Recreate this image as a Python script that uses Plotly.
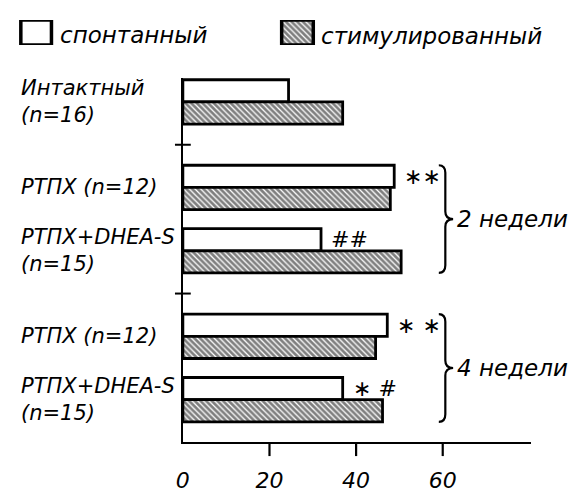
import plotly.graph_objects as go

# ---- data -------------------------------------------------------------
groups = [
    "Интактный<br>(n=16)",
    "РТПХ (n=12)",
    "РТПХ+DHEA-S<br>(n=15)",
    "РТПХ (n=12)",
    "РТПХ+DHEA-S<br>(n=15)",
]
spontaneous = [24.4, 48.8, 31.9, 47.2, 36.9]
stimulated = [36.9, 47.9, 50.4, 44.5, 46.1]
marks = ["", "∗∗", "##", "∗ ∗", "∗ #"]
period = [0, 1, 1, 2, 2]            # 0 = intact, 1 = 2 weeks, 2 = 4 weeks
period_labels = {1: "2 недели", 2: "4 недели"}
legend_names = ["спонтанный", "стимулированный"]
x_ticks = [0, 20, 40, 60]

# ---- layout constants ---------------------------------------------------
W, H = 584, 493
BAR = 0.35                  # thickness of one bar (y units)
PERIOD_GAP = 0.35           # extra space between periods
FONT = "DejaVu Sans"
INK = "black"

pos = [i + PERIOD_GAP * p for i, p in enumerate(period)]

# plot area in pixels
PL, PR, PT, PB = 178, 530, 78, 443
X_MAX = 80.3
Y_RANGE = [5.37, -0.38]


def fx(px):
    return px / W


def fy(py):
    return 1 - py / H


hatch = dict(shape="\\", fgcolor=INK, bgcolor="white", size=4, solidity=0.68)

fig = go.Figure()

fig.add_trace(go.Bar(
    orientation="h", y=pos, x=spontaneous, offset=-BAR, width=BAR,
    marker=dict(color="white", line=dict(color=INK, width=2.8)),
    name=legend_names[0], showlegend=False, hoverinfo="x",
))
fig.add_trace(go.Bar(
    orientation="h", y=pos, x=stimulated, offset=0, width=BAR,
    marker=dict(color="white", pattern=hatch, line=dict(color=INK, width=2.8)),
    name=legend_names[1], showlegend=False, hoverinfo="x",
))

# legend swatches on their own small axis pair
fig.add_trace(go.Bar(
    orientation="h", y=[0.5], x=[31], base=[14], width=1,
    marker=dict(color="white", line=dict(color=INK, width=3.5)),
    xaxis="x3", yaxis="y3", showlegend=False, hoverinfo="skip",
))
fig.add_trace(go.Bar(
    orientation="h", y=[0.5], x=[32], base=[278], width=1,
    marker=dict(color="white", pattern=hatch, line=dict(color=INK, width=3.5)),
    xaxis="x3", yaxis="y3", showlegend=False, hoverinfo="skip",
))

italic = dict(family=FONT, size=21, color=INK, style="italic")
annotations = []

# legend texts
annotations.append(dict(x=fx(52), y=fy(35), xref="paper", yref="paper",
                        text=legend_names[0], showarrow=False,
                        xanchor="left", yanchor="middle",
                        font=dict(italic, size=23)))
annotations.append(dict(x=fx(316), y=fy(36), xref="paper", yref="paper",
                        text=legend_names[1], showarrow=False,
                        xanchor="left", yanchor="middle",
                        font=dict(italic, size=23)))

# group labels on the left
for g, p in zip(groups, pos):
    annotations.append(dict(x=fx(12), y=p, xref="paper", yref="y",
                            text=g, showarrow=False, align="left",
                            xanchor="left", yanchor="middle", font=italic))

# significance marks next to the spontaneous bars
for m, v, p in zip(marks, spontaneous, pos):
    if m:
        annotations.append(dict(x=v, y=p - BAR / 2, xref="x", yref="y",
                                text=m, showarrow=False, xanchor="left",
                                yanchor="middle", xshift=8,
                                font=dict(family=FONT, size=22, color=INK)))

shapes = []

# curly braces for each period
for pid, label in period_labels.items():
    rows = [i for i, p in enumerate(period) if p == pid]
    yt = pos[rows[0]] - BAR
    yb = pos[rows[-1]] + BAR
    ym = (yt + yb) / 2
    x0, xs, xt = 59.1, 60.6, 62.4
    r = 0.12
    path = (f"M {x0},{yt} Q {xs},{yt} {xs},{yt + r} "
            f"L {xs},{ym - r} Q {xs},{ym} {xt},{ym} "
            f"Q {xs},{ym} {xs},{ym + r} "
            f"L {xs},{yb - r} Q {xs},{yb} {x0},{yb}")
    shapes.append(dict(type="path", path=path, xref="x", yref="y",
                       line=dict(color=INK, width=2.2)))
    annotations.append(dict(x=xt, y=ym, xref="x", yref="y", text=label,
                            showarrow=False, xanchor="left", yanchor="middle",
                            xshift=2, font=dict(italic, size=23)))

# cross ticks on the category axis between periods
for i in range(1, len(pos)):
    if period[i] != period[i - 1]:
        ysep = ((pos[i - 1] + BAR) + (pos[i] - BAR)) / 2
        shapes.append(dict(type="line", xref="paper", yref="y",
                           x0=fx(PL - 8), x1=fx(PL + 8), y0=ysep, y1=ysep,
                           line=dict(color=INK, width=2)))

# outward tick marks on the value axis
for v in x_ticks:
    if v > 0:
        shapes.append(dict(type="line", xref="x", yref="paper",
                           x0=v, x1=v, y0=fy(PB), y1=fy(PB + 14),
                           line=dict(color=INK, width=2.2)))

fig.update_layout(
    width=W, height=H,
    margin=dict(l=0, r=0, t=0, b=0),
    paper_bgcolor="white", plot_bgcolor="white",
    barmode="overlay", showlegend=False,
    xaxis=dict(domain=[fx(PL), fx(PR)], range=[0, X_MAX],
               showgrid=False, zeroline=False,
               showline=True, linecolor=INK, linewidth=2.2,
               tickmode="array", tickvals=x_ticks,
               ticktext=[str(t) for t in x_ticks], ticks="",
               ticklabelstandoff=17,
               tickfont=dict(family=FONT, size=22, color=INK, style="italic"),
               fixedrange=True),
    yaxis=dict(domain=[fy(PB), fy(PT)], range=Y_RANGE,
               showgrid=False, zeroline=False,
               showline=True, linecolor=INK, linewidth=2.2,
               showticklabels=False, ticks="", fixedrange=True),
    xaxis3=dict(domain=[0, 1], range=[0, W], visible=False,
                anchor="y3", fixedrange=True),
    yaxis3=dict(domain=[fy(45), fy(20)], range=[0, 1], visible=False,
                anchor="x3", fixedrange=True),
    annotations=annotations,
    shapes=shapes,
)

fig.write_html("out.html")
